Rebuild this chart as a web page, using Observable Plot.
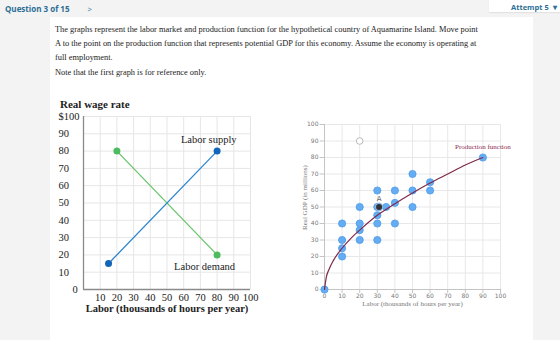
<!DOCTYPE html>
<html>
<head>
<meta charset="utf-8">
<script src="https://cdn.jsdelivr.net/npm/d3@7"></script>
<script src="https://cdn.jsdelivr.net/npm/@observablehq/plot@0.6"></script>
<style>
  body { margin:0; width:560px; height:340px; background:#f3f3f3; overflow:hidden; position:relative; font-family:"Liberation Serif", "Times New Roman", serif; }
  .hdr { position:absolute; left:5px; top:3px; font:bold 8px "Open Sans", sans-serif; color:#2b6e96; white-space:nowrap; }
  .hdr .arr { margin-left:18px; font-weight:normal; }
  .att { position:absolute; left:489px; top:0; width:71px; height:12px; background:#fff; font:bold 7.5px "Open Sans", sans-serif; color:#2b6e96; box-shadow:0 1px 1px #e2e2e2; }
  .att span { position:absolute; left:22px; top:2px; white-space:nowrap; }
  .panel { position:absolute; left:50px; top:17px; width:483px; height:330px; background:#fff; }
  .txt { position:absolute; left:55px; font-size:8.4px; color:#222; white-space:nowrap; }
  .c { position:absolute; }
  .title1 { position:absolute; left:60px; top:98px; font-weight:bold; font-size:11px; color:#222; }
</style>
</head>
<body>
<div class="hdr">Question 3 of 15<span class="arr">&gt;</span></div>
<div class="att"><span>Attempt 5 &nbsp;▾</span></div>
<div class="panel"></div>
<div class="txt" style="top:25px">The graphs represent the labor market and production function for the hypothetical country of Aquamarine Island. Move point</div>
<div class="txt" style="top:39px">A to the point on the production function that represents potential GDP for this economy. Assume the economy is operating at</div>
<div class="txt" style="top:53px">full employment.</div>
<div class="txt" style="top:68px">Note that the first graph is for reference only.</div>
<div class="title1">Real wage rate</div>
<div id="c1" class="c" style="left:50px;top:95px"></div>
<div id="c2" class="c" style="left:300px;top:110px"></div>
<script>
// ---- Chart 1: labor market ----
const supplyLabor = [15, 80];
const supplyWage = [15, 80];
const demandLabor = [20, 80];
const demandWage = [80, 20];
const wageTicks = [10, 20, 30, 40, 50, 60, 70, 80, 90, 100];
const laborTicks1 = [10, 20, 30, 40, 50, 60, 70, 80, 90, 100];
const gridTicks = [0, 10, 20, 30, 40, 50, 60, 70, 80, 90, 100];

const supply = supplyLabor.map((x, i) => ({x, y: supplyWage[i]}));
const demand = demandLabor.map((x, i) => ({x, y: demandWage[i]}));

const serif = "Liberation Serif, Times New Roman, serif";
const p1 = Plot.plot({
  width: 220, height: 230,
  marginLeft: 33, marginRight: 20, marginTop: 21, marginBottom: 36,
  style: {fontFamily: serif, fontSize: "10.5px", color: "#222", background: "transparent"},
  x: {domain: [0, 100], axis: null},
  y: {domain: [0, 100], axis: null},
  marks: [
    Plot.ruleX(gridTicks.slice(1), {stroke: "#e6e6e6", strokeOpacity: 1}),
    Plot.ruleY(gridTicks.slice(1), {stroke: "#e6e6e6", strokeOpacity: 1}),
    Plot.ruleX([0], {stroke: "#8a8a8a", strokeWidth: 1.3}),
    Plot.ruleY([0], {stroke: "#8a8a8a", strokeWidth: 1.3}),
    Plot.line(demand, {x: "x", y: "y", stroke: "#6cc46c", strokeWidth: 1.3}),
    Plot.line(supply, {x: "x", y: "y", stroke: "#2f86cf", strokeWidth: 1.3}),
    Plot.dot(demand, {x: "x", y: "y", r: 3.5, fill: "#4dbb5f", stroke: "none"}),
    Plot.dot(supply, {x: "x", y: "y", r: 3.5, fill: "#1266b8", stroke: "none"}),
    Plot.text(["Labor supply"], {x: 75, y: 86.5, text: d => d, fill: "#222"}),
    Plot.text(["Labor demand"], {x: 72.5, y: 13.5, text: d => d, fill: "#222"}),
    Plot.text(wageTicks, {x: 0, y: d => d, text: d => d === 100 ? "$100" : String(d), textAnchor: "start", dx: -25, fill: "#222"}),
    Plot.text([0], {x: 0, y: d => d, text: d => String(d), textAnchor: "start", dx: -11, fill: "#222"}),
    Plot.text(laborTicks1, {x: d => d, y: 0, text: d => String(d), dy: 8.5, fill: "#222"}),
    Plot.text(["Labor (thousands of hours per year)"], {frameAnchor: "bottom", dy: 22.5, text: d => d, fontWeight: "bold", fill: "#222"})
  ]
});
document.getElementById("c1").appendChild(p1);

// ---- Chart 2: production function ----
const curveLabor = [0, 1, 2.5, 5, 10, 15, 20, 30, 40, 50, 60, 70, 80, 90];
const curveGDP = [0, 7.4, 12, 17.5, 25, 31, 36, 45, 52, 58.5, 64.5, 70, 75.5, 80];
const dotLabor = [0, 10, 10, 10, 10, 20, 20, 20, 20, 30, 30, 30, 30, 30, 35, 40, 40, 40, 50, 50, 50, 60, 60, 90];
const dotGDP   = [0, 20, 25, 30, 40, 30, 36, 40, 50, 30, 40, 45, 50, 60, 50, 40, 52.5, 60, 50, 60, 70, 60, 65, 80];
const pointA = {labor: 31, gdp: 50};
const hollowPoint = {labor: 20, gdp: 90};
const axisTicks2 = [0, 10, 20, 30, 40, 50, 60, 70, 80, 90, 100];

const curve = curveLabor.map((x, i) => ({x, y: curveGDP[i]}));
const dots = dotLabor.map((x, i) => ({x, y: dotGDP[i]}));

const p2 = Plot.plot({
  width: 220, height: 215,
  marginLeft: 24, marginRight: 20, marginTop: 14, marginBottom: 36,
  style: {fontFamily: "DejaVu Sans, sans-serif", fontSize: "6px", color: "#777", background: "transparent"},
  x: {domain: [0, 100], axis: null},
  y: {domain: [0, 100], axis: null},
  marks: [
    Plot.ruleX(axisTicks2.slice(1), {stroke: "#e8e8e8"}),
    Plot.ruleY(axisTicks2.slice(1), {stroke: "#e8e8e8"}),
    Plot.ruleX([0], {stroke: "#c4c4c4"}),
    Plot.ruleY([0], {stroke: "#c4c4c4"}),
    Plot.ruleY(axisTicks2, {y: d => d, x1: -2.5, x2: 0, stroke: "#c4c4c4"}),
    Plot.ruleX(axisTicks2, {x: d => d, y1: -2.4, y2: 0, stroke: "#c4c4c4"}),
    Plot.text(axisTicks2, {x: 0, y: d => d, text: d => String(d), textAnchor: "end", dx: -6, fill: "#777"}),
    Plot.text(axisTicks2, {x: d => d, y: 0, text: d => String(d), dy: 7, fill: "#777"}),
    Plot.text(["Labor (thousands of hours per year)"], {frameAnchor: "bottom", dy: 16, text: d => d, fontFamily: serif, fontSize: 7, fill: "#777"}),
    Plot.text(["Real GDP (in millions)"], {frameAnchor: "left", rotate: -90, dx: -20, dy: 23, text: d => d, fontFamily: serif, fontSize: 7, fill: "#777"}),
    Plot.dot([hollowPoint], {x: "labor", y: "gdp", r: 3.3, fill: "#fff", stroke: "#aaa", strokeWidth: 0.8}),
    Plot.dot(dots, {x: "x", y: "y", r: 3.6, fill: "#65adf3", stroke: "#4d9ae8", strokeWidth: 0.8}),
    Plot.line(curve, {x: "x", y: "y", curve: "monotone-x", stroke: "#7e2a4b", strokeWidth: 1.2}),
    Plot.dot([pointA], {x: "labor", y: "gdp", r: 3.6, fill: "#333", stroke: "#8ab8e6", strokeWidth: 1.2}),
    Plot.text([pointA], {x: "labor", y: "gdp", text: () => "A", dy: -8, fill: "#666", fontSize: 7}),
    Plot.text(["Production function"], {x: 90, y: 86.5, text: d => d, fontFamily: serif, fontSize: 7, fill: "#8b2a4f"})
  ]
});
document.getElementById("c2").appendChild(p2);
</script>
</body>
</html>
